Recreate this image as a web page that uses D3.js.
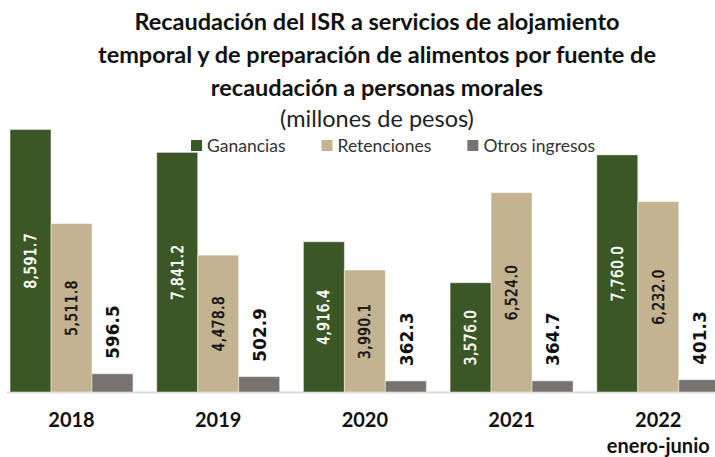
<!DOCTYPE html>
<html>
<head>
<meta charset="utf-8">
<script src="https://cdn.jsdelivr.net/npm/d3@7/dist/d3.min.js"></script>
<style>
    body { margin: 0; background: #fff; }
    svg { display: block; }
</style>
</head>
<body>
<div id="chart"></div>
<script>
"use strict";

// data (millones de pesos)
var years = ["2018", "2019", "2020", "2021", "2022"];
var series = ["Ganancias", "Retenciones", "Otros ingresos"];
var ganancias = [8591.7, 7841.2, 4916.4, 3576.0, 7760.0];
var retenciones = [5511.8, 4478.8, 3990.1, 6524.0, 6232.0];
var otros = [596.5, 502.9, 362.3, 364.7, 401.3];
var titleLines = [
    "Recaudación del ISR a servicios de alojamiento",
    "temporal y de preparación de alimentos por fuente de",
    "recaudación a personas morales"
];
var subtitle = "(millones de pesos)";
var yearNote = { "2022": "enero-junio" };

var colors = {
    "Ganancias": "#3b5726",
    "Retenciones": "#c3b391",
    "Otros ingresos": "#787371"
};

var specs = {
    w: 715,
    h: 457,
    base: 392,
    top: 117,
    left: -1.85,
    right: 731.6
};

var svg = d3.select("#chart").append("svg")
    .attr("width", specs.w)
    .attr("height", specs.h);

// build rows
var rows = years.map(function(y, i) {
    return { year: y, values: [ganancias[i], retenciones[i], otros[i]] };
});

var x0 = d3.scaleBand()
    .domain(years)
    .range([specs.left, specs.right])
    .paddingInner(0.162)
    .paddingOuter(0.081);

var x1 = d3.scaleBand()
    .domain(series)
    .range([0, x0.bandwidth()]);

var y = d3.scaleLinear()
    .domain([0, 9000])
    .range([specs.base, specs.top]);

// title
var title = svg.append("g").attr("font-family", "Lato, 'Open Sans', sans-serif");
title.selectAll("text.t")
    .data(titleLines)
    .enter().append("text")
    .attr("class", "t")
    .attr("x", 377)
    .attr("y", function(d, i) { return 30 + i * 33; })
    .attr("text-anchor", "middle")
    .attr("font-weight", "bold")
    .attr("font-size", 23.5)
    .attr("fill", "#111")
    .text(function(d) { return d; });

title.append("text")
    .attr("x", 377)
    .attr("y", 127)
    .attr("text-anchor", "middle")
    .attr("font-size", 23.5)
    .attr("fill", "#222")
    .text(subtitle);

// legend
var legend = svg.append("g").attr("font-family", "Lato, 'Open Sans', sans-serif");
var lx = 191;
series.forEach(function(s) {
    legend.append("rect")
        .attr("x", lx)
        .attr("y", 140)
        .attr("width", 11)
        .attr("height", 11)
        .attr("fill", colors[s]);
    var t = legend.append("text")
        .attr("x", lx + 16)
        .attr("y", 152)
        .attr("font-size", 17.5)
        .attr("fill", "#333")
        .text(s);
    lx += 16 + t.node().getComputedTextLength() + 36;
});

// baseline
svg.append("line")
    .attr("x1", 7)
    .attr("x2", specs.w)
    .attr("y1", specs.base + 0.5)
    .attr("y2", specs.base + 0.5)
    .attr("stroke", "#d9d9d9")
    .attr("stroke-width", 2);

// bars
var groups = svg.selectAll("g.year")
    .data(rows)
    .enter().append("g")
    .attr("class", "year")
    .attr("transform", function(d) { return "translate(" + x0(d.year) + ",0)"; });

var cells = groups.selectAll("g.bar")
    .data(function(d) {
        return d.values.map(function(v, i) { return { key: series[i], value: v }; });
    })
    .enter().append("g")
    .attr("class", "bar");

cells.append("rect")
    .attr("x", function(d) { return x1(d.key); })
    .attr("width", x1.bandwidth())
    .attr("y", function(d) { return y(d.value); })
    .attr("height", function(d) { return y(0) - y(d.value); })
    .attr("fill", function(d) { return colors[d.key]; })
    .attr("stroke", "rgba(255,255,255,0.45)")
    .attr("stroke-width", 1);

var fmt = d3.format(",.1f");

function labelColor(d) { return d.key === "Ganancias" ? "#fff" : "#111"; }

// inside labels (ganancias, retenciones) centred in bar; otros above bar
cells.append("text")
    .attr("transform", function(d) {
        var cx = x1(d.key) + x1.bandwidth() / 2;
        var cy = d.key === "Otros ingresos" ? y(d.value) - 15 : (y(d.value) + y(0)) / 2;
        return "translate(" + cx + "," + cy + ") rotate(-90)";
    })
    .attr("text-anchor", function(d) { return d.key === "Otros ingresos" ? "start" : "middle"; })
    .attr("dy", "0.36em")
    .attr("font-family", "'DejaVu Sans Condensed', 'DejaVu Sans', sans-serif")
    .attr("font-size", function(d) { return d.key === "Otros ingresos" ? 18.5 : 15; })
    .attr("font-weight", function(d) { return d.key === "Otros ingresos" ? "bold" : "normal"; })
    .attr("letter-spacing", function(d) { return d.key === "Otros ingresos" ? 0.2 : 0.6; })
    .attr("fill", labelColor)
    .attr("stroke", function(d) { return d.key === "Otros ingresos" ? "none" : labelColor(d); })
    .attr("stroke-width", 0.5)
    .text(function(d) { return fmt(d.value); });

// year labels
var axis = svg.append("g").attr("font-family", "Lato, 'Open Sans', sans-serif");
axis.selectAll("text.yr")
    .data(years)
    .enter().append("text")
    .attr("class", "yr")
    .attr("x", function(d) { return x0(d) + x0.bandwidth() / 2; })
    .attr("y", 427)
    .attr("text-anchor", "middle")
    .attr("font-weight", "bold")
    .attr("font-size", 20)
    .attr("fill", "#111")
    .text(function(d) { return d; });

axis.selectAll("text.note")
    .data(years.filter(function(d) { return yearNote[d]; }))
    .enter().append("text")
    .attr("class", "note")
    .attr("x", function(d) { return x0(d) + x0.bandwidth() / 2; })
    .attr("y", 453)
    .attr("text-anchor", "middle")
    .attr("font-weight", "bold")
    .attr("font-size", 20)
    .attr("fill", "#111")
    .text(function(d) { return yearNote[d]; });
</script>
</body>
</html>
